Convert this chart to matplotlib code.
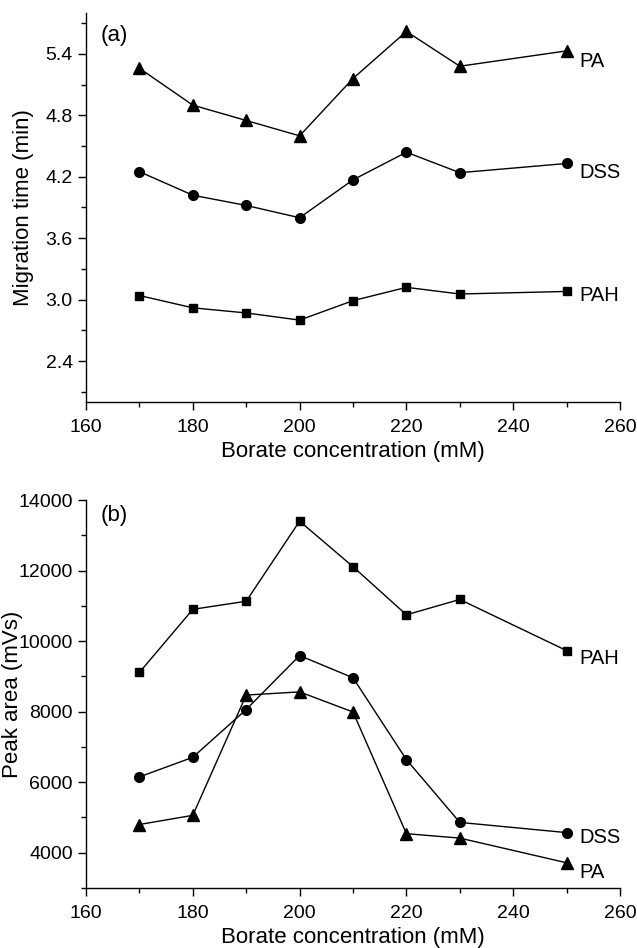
import matplotlib
matplotlib.use("Agg")
import matplotlib.pyplot as plt
from matplotlib.ticker import MultipleLocator

plt.rcParams['font.family'] = ['Liberation Sans', 'DejaVu Sans']

borate = [170, 180, 190, 200, 210, 220, 230, 250]

# (a) migration time (min)
time_pa = [5.26, 4.90, 4.75, 4.60, 5.16, 5.62, 5.28, 5.43]
time_dss = [4.25, 4.02, 3.92, 3.80, 4.17, 4.44, 4.24, 4.33]
time_pah = [3.04, 2.92, 2.87, 2.80, 2.99, 3.12, 3.055, 3.08]

# (b) peak area (mVs)
area_pah = [9110, 10900, 11130, 13400, 12110, 10745, 11180, 9730]
area_dss = [6150, 6705, 8060, 9590, 8960, 6640, 4860, 4570]
area_pa = [4800, 5060, 8470, 8560, 7990, 4540, 4415, 3715]

series_labels = ["PA", "DSS", "PAH"]


def style_axes(ax):
    for side in ("top", "right"):
        ax.spines[side].set_visible(False)
    for side in ("left", "bottom"):
        ax.spines[side].set_linewidth(1.0)
    ax.tick_params(which="major", direction="out", length=6, width=1.0,
                   labelsize=14)
    ax.tick_params(axis="x", which="major", pad=6)
    ax.tick_params(which="minor", direction="out", length=3.5, width=1.0)
    ax.set_xlim(160, 260)
    ax.xaxis.set_major_locator(MultipleLocator(20))
    ax.xaxis.set_minor_locator(MultipleLocator(10))
    ax.set_xlabel("Borate concentration (mM)", fontsize=16, labelpad=4)


def plot_line(ax, y, marker, ms):
    ax.plot(borate, y, color="black", lw=1.0, marker=marker, ms=ms,
            markerfacecolor="black", markeredgecolor="black", clip_on=False)


fig = plt.figure(figsize=(6.37, 9.48), dpi=100)
W, H = 637, 948
ax1 = fig.add_axes([86 / W, 1 - 402 / H, 534 / W, 389 / H])
ax2 = fig.add_axes([86 / W, 1 - 888 / H, 534 / W, 388 / H])

# panel (a)
plot_line(ax1, time_pa, "^", 9)
plot_line(ax1, time_dss, "o", 7)
plot_line(ax1, time_pah, "s", 5.5)
style_axes(ax1)
ax1.set_ylim(2.0, 5.8)
ax1.yaxis.set_minor_locator(MultipleLocator(0.3))
ax1.set_yticks([2.4, 3.0, 3.6, 4.2, 4.8, 5.4])
ax1.set_yticklabels(["2.4", "3.0", "3.6", "4.2", "4.8", "5.4"])
ax1.set_ylabel("Migration time (min)", fontsize=16)
ax1.yaxis.set_label_coords(-0.097, 0.5)
ax1.text(0.028, 0.943, "(a)", transform=ax1.transAxes, fontsize=16,
         va="center", ha="left")
for lbl, yv in zip(series_labels, [5.33, 4.24, 3.045]):
    ax1.text(252.3, yv, lbl, fontsize=14.5, va="center", ha="left")

# panel (b)
plot_line(ax2, area_pah, "s", 5.5)
plot_line(ax2, area_dss, "o", 7)
plot_line(ax2, area_pa, "^", 9)
style_axes(ax2)
ax2.set_ylim(3000, 14000)
ax2.set_yticks([4000, 6000, 8000, 10000, 12000, 14000])
ax2.yaxis.set_minor_locator(MultipleLocator(1000))
ax2.set_ylabel("Peak area (mVs)", fontsize=16)
ax2.yaxis.set_label_coords(-0.118, 0.5)
ax2.text(0.028, 0.961, "(b)", transform=ax2.transAxes, fontsize=16,
         va="center", ha="left")
for lbl, yv in zip(["PAH", "DSS", "PA"], [9500, 4440, 3450]):
    ax2.text(252.3, yv, lbl, fontsize=14.5, va="center", ha="left")

fig.savefig("out.png", dpi=100)
